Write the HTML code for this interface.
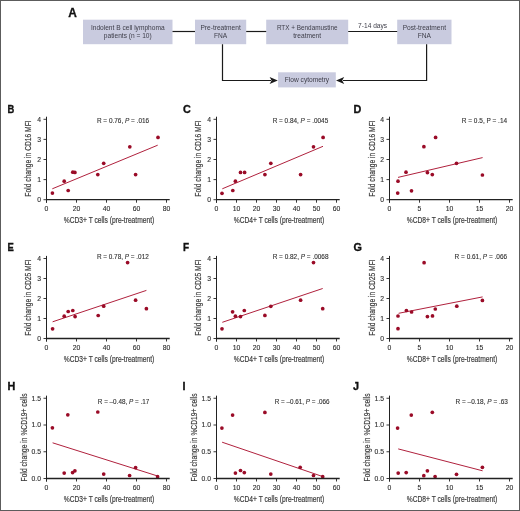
<!DOCTYPE html>
<html><head><meta charset="utf-8"><style>
html,body{margin:0;padding:0;background:#fff;}
body{width:520px;height:511px;overflow:hidden;}
svg{display:block;font-family:"Liberation Sans", sans-serif;will-change:transform;}
.frame{position:absolute;left:0;top:0;width:518px;height:509px;border:1px solid #5c5c5c;}
</style></head><body>
<svg width="520" height="511" viewBox="0 0 520 511">
<rect x="0" y="0" width="520" height="511" fill="#fff"/>
<text x="68.2" y="16.5" font-size="12" text-anchor="start" fill="#111" font-weight="bold" textLength="8.6" lengthAdjust="spacingAndGlyphs" stroke="#111" stroke-width="0.3">A</text>
<rect x="83" y="19.7" width="89.5" height="24.5" fill="#c9cbdf"/>
<text x="127.75" y="30.0" font-size="6.6" text-anchor="middle" fill="#3d3d48" font-weight="normal">Indolent B cell lymphoma</text>
<text x="127.75" y="38.1" font-size="6.6" text-anchor="middle" fill="#3d3d48" font-weight="normal">patients (n = 10)</text>
<rect x="195" y="19.7" width="51.2" height="24.5" fill="#c9cbdf"/>
<text x="220.6" y="30.0" font-size="6.6" text-anchor="middle" fill="#3d3d48" font-weight="normal">Pre-treatment</text>
<text x="220.6" y="38.1" font-size="6.6" text-anchor="middle" fill="#3d3d48" font-weight="normal">FNA</text>
<rect x="266.2" y="19.7" width="82.0" height="24.5" fill="#c9cbdf"/>
<text x="307.2" y="30.0" font-size="6.6" text-anchor="middle" fill="#3d3d48" font-weight="normal" textLength="60.6" lengthAdjust="spacingAndGlyphs">RTX + Bendamustine</text>
<text x="307.2" y="38.1" font-size="6.6" text-anchor="middle" fill="#3d3d48" font-weight="normal">treatment</text>
<rect x="397.2" y="19.7" width="54.3" height="24.5" fill="#c9cbdf"/>
<text x="424.35" y="30.0" font-size="6.6" text-anchor="middle" fill="#3d3d48" font-weight="normal">Post-treatment</text>
<text x="424.35" y="38.1" font-size="6.6" text-anchor="middle" fill="#3d3d48" font-weight="normal">FNA</text>
<g stroke="#1a1a1a" stroke-width="1.2" fill="none">
<line x1="172.5" y1="31.5" x2="195" y2="31.5"/>
<line x1="246.2" y1="31.5" x2="266.2" y2="31.5"/>
<line x1="348.2" y1="31.5" x2="397.2" y2="31.5"/>
<polyline points="222.5,44.2 222.5,80.5 271,80.5"/>
<polyline points="426.6,44.2 426.6,80.5 343,80.5"/>
</g>
<path d="M277.8,80.5 L269.6,76.9 L271.6,80.5 L269.6,84.1 Z" fill="#1a1a1a"/>
<path d="M336.0,80.5 L344.2,76.9 L342.2,80.5 L344.2,84.1 Z" fill="#1a1a1a"/>
<text x="372.6" y="28.0" font-size="6.6" text-anchor="middle" fill="#3d3d48" font-weight="normal">7-14 days</text>
<rect x="278.1" y="72.3" width="57.7" height="15.1" fill="#c9cbdf"/>
<text x="307" y="82.4" font-size="6.6" text-anchor="middle" fill="#3d3d48" font-weight="normal">Flow cytometry</text>
<text x="7.6" y="112.9" font-size="10.8" text-anchor="start" fill="#111" font-weight="bold" textLength="6.8" lengthAdjust="spacingAndGlyphs" stroke="#111" stroke-width="0.35">B</text>
<line x1="52.3" y1="188.8" x2="157.7" y2="145.2" stroke="#b0213d" stroke-width="1"/>
<circle cx="52.4" cy="193.1" r="1.85" fill="#9a0b27"/>
<circle cx="64.2" cy="181.2" r="1.85" fill="#9a0b27"/>
<circle cx="68.2" cy="190.5" r="1.85" fill="#9a0b27"/>
<circle cx="72.8" cy="172.2" r="1.85" fill="#9a0b27"/>
<circle cx="74.9" cy="172.4" r="1.85" fill="#9a0b27"/>
<circle cx="97.8" cy="174.6" r="1.85" fill="#9a0b27"/>
<circle cx="103.7" cy="163.3" r="1.85" fill="#9a0b27"/>
<circle cx="129.8" cy="146.8" r="1.85" fill="#9a0b27"/>
<circle cx="135.6" cy="174.6" r="1.85" fill="#9a0b27"/>
<circle cx="158" cy="137.4" r="1.85" fill="#9a0b27"/>
<g stroke="#222" fill="none">
<line x1="46.5" y1="116.7" x2="46.5" y2="202.7" stroke-width="1"/>
<line x1="46.0" y1="199.7" x2="169.7" y2="199.7" stroke-width="1.3"/>
<line x1="43.5" y1="199.7" x2="46.5" y2="199.7" stroke-width="0.9"/>
<line x1="43.5" y1="179.6" x2="46.5" y2="179.6" stroke-width="0.9"/>
<line x1="43.5" y1="159.5" x2="46.5" y2="159.5" stroke-width="0.9"/>
<line x1="43.5" y1="139.4" x2="46.5" y2="139.4" stroke-width="0.9"/>
<line x1="43.5" y1="119.3" x2="46.5" y2="119.3" stroke-width="0.9"/>
<line x1="46.5" y1="199.7" x2="46.5" y2="202.7" stroke-width="0.9"/>
<line x1="76.5" y1="199.7" x2="76.5" y2="202.7" stroke-width="0.9"/>
<line x1="106.5" y1="199.7" x2="106.5" y2="202.7" stroke-width="0.9"/>
<line x1="136.5" y1="199.7" x2="136.5" y2="202.7" stroke-width="0.9"/>
<line x1="166.5" y1="199.7" x2="166.5" y2="202.7" stroke-width="0.9"/>
</g>
<text x="41.0" y="202.1" font-size="6.8" text-anchor="end" fill="#2e2e2e" font-weight="normal" stroke="#2e2e2e" stroke-width="0.12">0</text>
<text x="41.0" y="182.0" font-size="6.8" text-anchor="end" fill="#2e2e2e" font-weight="normal" stroke="#2e2e2e" stroke-width="0.12">1</text>
<text x="41.0" y="161.9" font-size="6.8" text-anchor="end" fill="#2e2e2e" font-weight="normal" stroke="#2e2e2e" stroke-width="0.12">2</text>
<text x="41.0" y="141.8" font-size="6.8" text-anchor="end" fill="#2e2e2e" font-weight="normal" stroke="#2e2e2e" stroke-width="0.12">3</text>
<text x="41.0" y="121.7" font-size="6.8" text-anchor="end" fill="#2e2e2e" font-weight="normal" stroke="#2e2e2e" stroke-width="0.12">4</text>
<text x="46.5" y="211.3" font-size="6.8" text-anchor="middle" fill="#2e2e2e" font-weight="normal" stroke="#2e2e2e" stroke-width="0.12">0</text>
<text x="76.5" y="211.3" font-size="6.8" text-anchor="middle" fill="#2e2e2e" font-weight="normal" stroke="#2e2e2e" stroke-width="0.12">20</text>
<text x="106.5" y="211.3" font-size="6.8" text-anchor="middle" fill="#2e2e2e" font-weight="normal" stroke="#2e2e2e" stroke-width="0.12">40</text>
<text x="136.5" y="211.3" font-size="6.8" text-anchor="middle" fill="#2e2e2e" font-weight="normal" stroke="#2e2e2e" stroke-width="0.12">60</text>
<text x="166.5" y="211.3" font-size="6.8" text-anchor="middle" fill="#2e2e2e" font-weight="normal" stroke="#2e2e2e" stroke-width="0.12">80</text>
<text x="109.0" y="223.2" font-size="8.6" text-anchor="middle" fill="#3b3b3b" font-weight="normal" textLength="90.5" lengthAdjust="spacingAndGlyphs" stroke="#3b3b3b" stroke-width="0.18">%CD3+ T cells (pre-treatment)</text>
<text transform="translate(31.0,158.5) rotate(-90)" x="0" y="0" font-size="8.2" text-anchor="middle" fill="#3b3b3b" textLength="76.3" lengthAdjust="spacingAndGlyphs" stroke="#3b3b3b" stroke-width="0.18">Fold change in CD16 MFI</text>
<text x="96.9" y="122.5" font-size="6.4" text-anchor="start" fill="#333" font-weight="normal" textLength="52.3" lengthAdjust="spacingAndGlyphs" stroke="#333" stroke-width="0.12">R = 0.76, <tspan font-style="italic">P</tspan> = .016</text>
<text x="183" y="112.9" font-size="10.8" text-anchor="start" fill="#111" font-weight="bold" stroke="#111" stroke-width="0.35">C</text>
<line x1="222.3" y1="188.8" x2="323" y2="146.3" stroke="#b0213d" stroke-width="1"/>
<circle cx="222" cy="193.3" r="1.85" fill="#9a0b27"/>
<circle cx="232.8" cy="190.5" r="1.85" fill="#9a0b27"/>
<circle cx="235.4" cy="181.2" r="1.85" fill="#9a0b27"/>
<circle cx="240.5" cy="172.4" r="1.85" fill="#9a0b27"/>
<circle cx="244.6" cy="172.4" r="1.85" fill="#9a0b27"/>
<circle cx="264.9" cy="174.6" r="1.85" fill="#9a0b27"/>
<circle cx="270.8" cy="163.3" r="1.85" fill="#9a0b27"/>
<circle cx="300.6" cy="174.6" r="1.85" fill="#9a0b27"/>
<circle cx="313.5" cy="146.8" r="1.85" fill="#9a0b27"/>
<circle cx="323.1" cy="137.4" r="1.85" fill="#9a0b27"/>
<g stroke="#222" fill="none">
<line x1="216.5" y1="116.7" x2="216.5" y2="202.7" stroke-width="1"/>
<line x1="216.0" y1="199.7" x2="339.7" y2="199.7" stroke-width="1.3"/>
<line x1="213.5" y1="199.7" x2="216.5" y2="199.7" stroke-width="0.9"/>
<line x1="213.5" y1="179.6" x2="216.5" y2="179.6" stroke-width="0.9"/>
<line x1="213.5" y1="159.5" x2="216.5" y2="159.5" stroke-width="0.9"/>
<line x1="213.5" y1="139.4" x2="216.5" y2="139.4" stroke-width="0.9"/>
<line x1="213.5" y1="119.3" x2="216.5" y2="119.3" stroke-width="0.9"/>
<line x1="216.5" y1="199.7" x2="216.5" y2="202.7" stroke-width="0.9"/>
<line x1="236.5" y1="199.7" x2="236.5" y2="202.7" stroke-width="0.9"/>
<line x1="256.5" y1="199.7" x2="256.5" y2="202.7" stroke-width="0.9"/>
<line x1="276.5" y1="199.7" x2="276.5" y2="202.7" stroke-width="0.9"/>
<line x1="296.5" y1="199.7" x2="296.5" y2="202.7" stroke-width="0.9"/>
<line x1="316.5" y1="199.7" x2="316.5" y2="202.7" stroke-width="0.9"/>
<line x1="336.5" y1="199.7" x2="336.5" y2="202.7" stroke-width="0.9"/>
</g>
<text x="211.0" y="202.1" font-size="6.8" text-anchor="end" fill="#2e2e2e" font-weight="normal" stroke="#2e2e2e" stroke-width="0.12">0</text>
<text x="211.0" y="182.0" font-size="6.8" text-anchor="end" fill="#2e2e2e" font-weight="normal" stroke="#2e2e2e" stroke-width="0.12">1</text>
<text x="211.0" y="161.9" font-size="6.8" text-anchor="end" fill="#2e2e2e" font-weight="normal" stroke="#2e2e2e" stroke-width="0.12">2</text>
<text x="211.0" y="141.8" font-size="6.8" text-anchor="end" fill="#2e2e2e" font-weight="normal" stroke="#2e2e2e" stroke-width="0.12">3</text>
<text x="211.0" y="121.7" font-size="6.8" text-anchor="end" fill="#2e2e2e" font-weight="normal" stroke="#2e2e2e" stroke-width="0.12">4</text>
<text x="216.5" y="211.3" font-size="6.8" text-anchor="middle" fill="#2e2e2e" font-weight="normal" stroke="#2e2e2e" stroke-width="0.12">0</text>
<text x="236.5" y="211.3" font-size="6.8" text-anchor="middle" fill="#2e2e2e" font-weight="normal" stroke="#2e2e2e" stroke-width="0.12">10</text>
<text x="256.5" y="211.3" font-size="6.8" text-anchor="middle" fill="#2e2e2e" font-weight="normal" stroke="#2e2e2e" stroke-width="0.12">20</text>
<text x="276.5" y="211.3" font-size="6.8" text-anchor="middle" fill="#2e2e2e" font-weight="normal" stroke="#2e2e2e" stroke-width="0.12">30</text>
<text x="296.5" y="211.3" font-size="6.8" text-anchor="middle" fill="#2e2e2e" font-weight="normal" stroke="#2e2e2e" stroke-width="0.12">40</text>
<text x="316.5" y="211.3" font-size="6.8" text-anchor="middle" fill="#2e2e2e" font-weight="normal" stroke="#2e2e2e" stroke-width="0.12">50</text>
<text x="336.5" y="211.3" font-size="6.8" text-anchor="middle" fill="#2e2e2e" font-weight="normal" stroke="#2e2e2e" stroke-width="0.12">60</text>
<text x="279.0" y="223.2" font-size="8.6" text-anchor="middle" fill="#3b3b3b" font-weight="normal" textLength="90.5" lengthAdjust="spacingAndGlyphs" stroke="#3b3b3b" stroke-width="0.18">%CD4+ T cells (pre-treatment)</text>
<text transform="translate(201.0,158.5) rotate(-90)" x="0" y="0" font-size="8.2" text-anchor="middle" fill="#3b3b3b" textLength="76.3" lengthAdjust="spacingAndGlyphs" stroke="#3b3b3b" stroke-width="0.18">Fold change in CD16 MFI</text>
<text x="272.7" y="122.5" font-size="6.4" text-anchor="start" fill="#333" font-weight="normal" textLength="55.5" lengthAdjust="spacingAndGlyphs" stroke="#333" stroke-width="0.12">R = 0.84, <tspan font-style="italic">P</tspan> = .0045</text>
<text x="353.5" y="112.9" font-size="10.8" text-anchor="start" fill="#111" font-weight="bold" stroke="#111" stroke-width="0.35">D</text>
<line x1="398" y1="177.4" x2="482.6" y2="157.6" stroke="#b0213d" stroke-width="1"/>
<circle cx="397.7" cy="193.1" r="1.85" fill="#9a0b27"/>
<circle cx="398" cy="181.2" r="1.85" fill="#9a0b27"/>
<circle cx="406" cy="172.2" r="1.85" fill="#9a0b27"/>
<circle cx="411.5" cy="190.8" r="1.85" fill="#9a0b27"/>
<circle cx="427.4" cy="172.6" r="1.85" fill="#9a0b27"/>
<circle cx="432.3" cy="174.6" r="1.85" fill="#9a0b27"/>
<circle cx="423.9" cy="146.7" r="1.85" fill="#9a0b27"/>
<circle cx="435.6" cy="137.4" r="1.85" fill="#9a0b27"/>
<circle cx="456.5" cy="163.3" r="1.85" fill="#9a0b27"/>
<circle cx="482.4" cy="175" r="1.85" fill="#9a0b27"/>
<g stroke="#222" fill="none">
<line x1="389.5" y1="116.7" x2="389.5" y2="202.7" stroke-width="1"/>
<line x1="389.0" y1="199.7" x2="512.7" y2="199.7" stroke-width="1.3"/>
<line x1="386.5" y1="199.7" x2="389.5" y2="199.7" stroke-width="0.9"/>
<line x1="386.5" y1="179.6" x2="389.5" y2="179.6" stroke-width="0.9"/>
<line x1="386.5" y1="159.5" x2="389.5" y2="159.5" stroke-width="0.9"/>
<line x1="386.5" y1="139.4" x2="389.5" y2="139.4" stroke-width="0.9"/>
<line x1="386.5" y1="119.3" x2="389.5" y2="119.3" stroke-width="0.9"/>
<line x1="389.5" y1="199.7" x2="389.5" y2="202.7" stroke-width="0.9"/>
<line x1="419.5" y1="199.7" x2="419.5" y2="202.7" stroke-width="0.9"/>
<line x1="449.5" y1="199.7" x2="449.5" y2="202.7" stroke-width="0.9"/>
<line x1="479.5" y1="199.7" x2="479.5" y2="202.7" stroke-width="0.9"/>
<line x1="509.5" y1="199.7" x2="509.5" y2="202.7" stroke-width="0.9"/>
</g>
<text x="384.0" y="202.1" font-size="6.8" text-anchor="end" fill="#2e2e2e" font-weight="normal" stroke="#2e2e2e" stroke-width="0.12">0</text>
<text x="384.0" y="182.0" font-size="6.8" text-anchor="end" fill="#2e2e2e" font-weight="normal" stroke="#2e2e2e" stroke-width="0.12">1</text>
<text x="384.0" y="161.9" font-size="6.8" text-anchor="end" fill="#2e2e2e" font-weight="normal" stroke="#2e2e2e" stroke-width="0.12">2</text>
<text x="384.0" y="141.8" font-size="6.8" text-anchor="end" fill="#2e2e2e" font-weight="normal" stroke="#2e2e2e" stroke-width="0.12">3</text>
<text x="384.0" y="121.7" font-size="6.8" text-anchor="end" fill="#2e2e2e" font-weight="normal" stroke="#2e2e2e" stroke-width="0.12">4</text>
<text x="389.5" y="211.3" font-size="6.8" text-anchor="middle" fill="#2e2e2e" font-weight="normal" stroke="#2e2e2e" stroke-width="0.12">0</text>
<text x="419.5" y="211.3" font-size="6.8" text-anchor="middle" fill="#2e2e2e" font-weight="normal" stroke="#2e2e2e" stroke-width="0.12">5</text>
<text x="449.5" y="211.3" font-size="6.8" text-anchor="middle" fill="#2e2e2e" font-weight="normal" stroke="#2e2e2e" stroke-width="0.12">10</text>
<text x="479.5" y="211.3" font-size="6.8" text-anchor="middle" fill="#2e2e2e" font-weight="normal" stroke="#2e2e2e" stroke-width="0.12">15</text>
<text x="509.5" y="211.3" font-size="6.8" text-anchor="middle" fill="#2e2e2e" font-weight="normal" stroke="#2e2e2e" stroke-width="0.12">20</text>
<text x="452.0" y="223.2" font-size="8.6" text-anchor="middle" fill="#3b3b3b" font-weight="normal" textLength="90.5" lengthAdjust="spacingAndGlyphs" stroke="#3b3b3b" stroke-width="0.18">%CD8+ T cells (pre-treatment)</text>
<text transform="translate(374.6,158.5) rotate(-90)" x="0" y="0" font-size="8.2" text-anchor="middle" fill="#3b3b3b" textLength="76.3" lengthAdjust="spacingAndGlyphs" stroke="#3b3b3b" stroke-width="0.18">Fold change in CD16 MFI</text>
<text x="461.8" y="122.5" font-size="6.4" text-anchor="start" fill="#333" font-weight="normal" textLength="45.3" lengthAdjust="spacingAndGlyphs" stroke="#333" stroke-width="0.12">R = 0.5, P = .14</text>
<text x="7.6" y="250.8" font-size="10.8" text-anchor="start" fill="#111" font-weight="bold" textLength="6.3" lengthAdjust="spacingAndGlyphs" stroke="#111" stroke-width="0.35">E</text>
<line x1="52.6" y1="321.8" x2="146.4" y2="290.4" stroke="#b0213d" stroke-width="1"/>
<circle cx="52.6" cy="328.8" r="1.85" fill="#9a0b27"/>
<circle cx="64.2" cy="316.2" r="1.85" fill="#9a0b27"/>
<circle cx="68.2" cy="311.5" r="1.85" fill="#9a0b27"/>
<circle cx="72.8" cy="310.5" r="1.85" fill="#9a0b27"/>
<circle cx="75.1" cy="316.6" r="1.85" fill="#9a0b27"/>
<circle cx="98.2" cy="315.5" r="1.85" fill="#9a0b27"/>
<circle cx="103.7" cy="306.2" r="1.85" fill="#9a0b27"/>
<circle cx="127.6" cy="262.6" r="1.85" fill="#9a0b27"/>
<circle cx="135.6" cy="300.2" r="1.85" fill="#9a0b27"/>
<circle cx="146.4" cy="308.7" r="1.85" fill="#9a0b27"/>
<g stroke="#222" fill="none">
<line x1="46.5" y1="255.9" x2="46.5" y2="341.5" stroke-width="1"/>
<line x1="46.0" y1="338.5" x2="169.7" y2="338.5" stroke-width="1.3"/>
<line x1="43.5" y1="338.5" x2="46.5" y2="338.5" stroke-width="0.9"/>
<line x1="43.5" y1="318.5" x2="46.5" y2="318.5" stroke-width="0.9"/>
<line x1="43.5" y1="298.5" x2="46.5" y2="298.5" stroke-width="0.9"/>
<line x1="43.5" y1="278.5" x2="46.5" y2="278.5" stroke-width="0.9"/>
<line x1="43.5" y1="258.5" x2="46.5" y2="258.5" stroke-width="0.9"/>
<line x1="46.5" y1="338.5" x2="46.5" y2="341.5" stroke-width="0.9"/>
<line x1="76.5" y1="338.5" x2="76.5" y2="341.5" stroke-width="0.9"/>
<line x1="106.5" y1="338.5" x2="106.5" y2="341.5" stroke-width="0.9"/>
<line x1="136.5" y1="338.5" x2="136.5" y2="341.5" stroke-width="0.9"/>
<line x1="166.5" y1="338.5" x2="166.5" y2="341.5" stroke-width="0.9"/>
</g>
<text x="41.0" y="340.9" font-size="6.8" text-anchor="end" fill="#2e2e2e" font-weight="normal" stroke="#2e2e2e" stroke-width="0.12">0</text>
<text x="41.0" y="320.9" font-size="6.8" text-anchor="end" fill="#2e2e2e" font-weight="normal" stroke="#2e2e2e" stroke-width="0.12">1</text>
<text x="41.0" y="300.9" font-size="6.8" text-anchor="end" fill="#2e2e2e" font-weight="normal" stroke="#2e2e2e" stroke-width="0.12">2</text>
<text x="41.0" y="280.9" font-size="6.8" text-anchor="end" fill="#2e2e2e" font-weight="normal" stroke="#2e2e2e" stroke-width="0.12">3</text>
<text x="41.0" y="260.9" font-size="6.8" text-anchor="end" fill="#2e2e2e" font-weight="normal" stroke="#2e2e2e" stroke-width="0.12">4</text>
<text x="46.5" y="350.1" font-size="6.8" text-anchor="middle" fill="#2e2e2e" font-weight="normal" stroke="#2e2e2e" stroke-width="0.12">0</text>
<text x="76.5" y="350.1" font-size="6.8" text-anchor="middle" fill="#2e2e2e" font-weight="normal" stroke="#2e2e2e" stroke-width="0.12">20</text>
<text x="106.5" y="350.1" font-size="6.8" text-anchor="middle" fill="#2e2e2e" font-weight="normal" stroke="#2e2e2e" stroke-width="0.12">40</text>
<text x="136.5" y="350.1" font-size="6.8" text-anchor="middle" fill="#2e2e2e" font-weight="normal" stroke="#2e2e2e" stroke-width="0.12">60</text>
<text x="166.5" y="350.1" font-size="6.8" text-anchor="middle" fill="#2e2e2e" font-weight="normal" stroke="#2e2e2e" stroke-width="0.12">80</text>
<text x="109.0" y="362.0" font-size="8.6" text-anchor="middle" fill="#3b3b3b" font-weight="normal" textLength="90.5" lengthAdjust="spacingAndGlyphs" stroke="#3b3b3b" stroke-width="0.18">%CD3+ T cells (pre-treatment)</text>
<text transform="translate(31.0,297.5) rotate(-90)" x="0" y="0" font-size="8.2" text-anchor="middle" fill="#3b3b3b" textLength="76.3" lengthAdjust="spacingAndGlyphs" stroke="#3b3b3b" stroke-width="0.18">Fold change in CD25 MFI</text>
<text x="96.9" y="259.0" font-size="6.4" text-anchor="start" fill="#333" font-weight="normal" textLength="51.9" lengthAdjust="spacingAndGlyphs" stroke="#333" stroke-width="0.12">R = 0.78, <tspan font-style="italic">P</tspan> = .012</text>
<text x="183" y="250.8" font-size="10.8" text-anchor="start" fill="#111" font-weight="bold" textLength="6.1" lengthAdjust="spacingAndGlyphs" stroke="#111" stroke-width="0.35">F</text>
<line x1="222.3" y1="322.3" x2="322.7" y2="288.5" stroke="#b0213d" stroke-width="1"/>
<circle cx="222" cy="328.8" r="1.85" fill="#9a0b27"/>
<circle cx="232.6" cy="311.8" r="1.85" fill="#9a0b27"/>
<circle cx="235.4" cy="316.2" r="1.85" fill="#9a0b27"/>
<circle cx="240.5" cy="316.6" r="1.85" fill="#9a0b27"/>
<circle cx="244.3" cy="310.5" r="1.85" fill="#9a0b27"/>
<circle cx="264.9" cy="315.4" r="1.85" fill="#9a0b27"/>
<circle cx="270.8" cy="306.3" r="1.85" fill="#9a0b27"/>
<circle cx="300.6" cy="300.2" r="1.85" fill="#9a0b27"/>
<circle cx="313.5" cy="262.6" r="1.85" fill="#9a0b27"/>
<circle cx="322.7" cy="308.7" r="1.85" fill="#9a0b27"/>
<g stroke="#222" fill="none">
<line x1="216.5" y1="255.9" x2="216.5" y2="341.5" stroke-width="1"/>
<line x1="216.0" y1="338.5" x2="339.7" y2="338.5" stroke-width="1.3"/>
<line x1="213.5" y1="338.5" x2="216.5" y2="338.5" stroke-width="0.9"/>
<line x1="213.5" y1="318.5" x2="216.5" y2="318.5" stroke-width="0.9"/>
<line x1="213.5" y1="298.5" x2="216.5" y2="298.5" stroke-width="0.9"/>
<line x1="213.5" y1="278.5" x2="216.5" y2="278.5" stroke-width="0.9"/>
<line x1="213.5" y1="258.5" x2="216.5" y2="258.5" stroke-width="0.9"/>
<line x1="216.5" y1="338.5" x2="216.5" y2="341.5" stroke-width="0.9"/>
<line x1="236.5" y1="338.5" x2="236.5" y2="341.5" stroke-width="0.9"/>
<line x1="256.5" y1="338.5" x2="256.5" y2="341.5" stroke-width="0.9"/>
<line x1="276.5" y1="338.5" x2="276.5" y2="341.5" stroke-width="0.9"/>
<line x1="296.5" y1="338.5" x2="296.5" y2="341.5" stroke-width="0.9"/>
<line x1="316.5" y1="338.5" x2="316.5" y2="341.5" stroke-width="0.9"/>
<line x1="336.5" y1="338.5" x2="336.5" y2="341.5" stroke-width="0.9"/>
</g>
<text x="211.0" y="340.9" font-size="6.8" text-anchor="end" fill="#2e2e2e" font-weight="normal" stroke="#2e2e2e" stroke-width="0.12">0</text>
<text x="211.0" y="320.9" font-size="6.8" text-anchor="end" fill="#2e2e2e" font-weight="normal" stroke="#2e2e2e" stroke-width="0.12">1</text>
<text x="211.0" y="300.9" font-size="6.8" text-anchor="end" fill="#2e2e2e" font-weight="normal" stroke="#2e2e2e" stroke-width="0.12">2</text>
<text x="211.0" y="280.9" font-size="6.8" text-anchor="end" fill="#2e2e2e" font-weight="normal" stroke="#2e2e2e" stroke-width="0.12">3</text>
<text x="211.0" y="260.9" font-size="6.8" text-anchor="end" fill="#2e2e2e" font-weight="normal" stroke="#2e2e2e" stroke-width="0.12">4</text>
<text x="216.5" y="350.1" font-size="6.8" text-anchor="middle" fill="#2e2e2e" font-weight="normal" stroke="#2e2e2e" stroke-width="0.12">0</text>
<text x="236.5" y="350.1" font-size="6.8" text-anchor="middle" fill="#2e2e2e" font-weight="normal" stroke="#2e2e2e" stroke-width="0.12">10</text>
<text x="256.5" y="350.1" font-size="6.8" text-anchor="middle" fill="#2e2e2e" font-weight="normal" stroke="#2e2e2e" stroke-width="0.12">20</text>
<text x="276.5" y="350.1" font-size="6.8" text-anchor="middle" fill="#2e2e2e" font-weight="normal" stroke="#2e2e2e" stroke-width="0.12">30</text>
<text x="296.5" y="350.1" font-size="6.8" text-anchor="middle" fill="#2e2e2e" font-weight="normal" stroke="#2e2e2e" stroke-width="0.12">40</text>
<text x="316.5" y="350.1" font-size="6.8" text-anchor="middle" fill="#2e2e2e" font-weight="normal" stroke="#2e2e2e" stroke-width="0.12">50</text>
<text x="336.5" y="350.1" font-size="6.8" text-anchor="middle" fill="#2e2e2e" font-weight="normal" stroke="#2e2e2e" stroke-width="0.12">60</text>
<text x="279.0" y="362.0" font-size="8.6" text-anchor="middle" fill="#3b3b3b" font-weight="normal" textLength="90.5" lengthAdjust="spacingAndGlyphs" stroke="#3b3b3b" stroke-width="0.18">%CD4+ T cells (pre-treatment)</text>
<text transform="translate(201.0,297.5) rotate(-90)" x="0" y="0" font-size="8.2" text-anchor="middle" fill="#3b3b3b" textLength="76.3" lengthAdjust="spacingAndGlyphs" stroke="#3b3b3b" stroke-width="0.18">Fold change in CD25 MFI</text>
<text x="272.7" y="259.0" font-size="6.4" text-anchor="start" fill="#333" font-weight="normal" textLength="55.8" lengthAdjust="spacingAndGlyphs" stroke="#333" stroke-width="0.12">R = 0.82, <tspan font-style="italic">P</tspan> = .0068</text>
<text x="353.5" y="250.8" font-size="10.8" text-anchor="start" fill="#111" font-weight="bold" stroke="#111" stroke-width="0.35">G</text>
<line x1="398.6" y1="313.3" x2="482.6" y2="296.9" stroke="#b0213d" stroke-width="1"/>
<circle cx="398" cy="316" r="1.85" fill="#9a0b27"/>
<circle cx="398" cy="328.7" r="1.85" fill="#9a0b27"/>
<circle cx="406.4" cy="310.5" r="1.85" fill="#9a0b27"/>
<circle cx="411.6" cy="312" r="1.85" fill="#9a0b27"/>
<circle cx="424.1" cy="262.7" r="1.85" fill="#9a0b27"/>
<circle cx="427.4" cy="316.6" r="1.85" fill="#9a0b27"/>
<circle cx="432.5" cy="315.9" r="1.85" fill="#9a0b27"/>
<circle cx="435.3" cy="309" r="1.85" fill="#9a0b27"/>
<circle cx="456.8" cy="306.2" r="1.85" fill="#9a0b27"/>
<circle cx="482.4" cy="300.4" r="1.85" fill="#9a0b27"/>
<g stroke="#222" fill="none">
<line x1="389.5" y1="255.9" x2="389.5" y2="341.5" stroke-width="1"/>
<line x1="389.0" y1="338.5" x2="512.7" y2="338.5" stroke-width="1.3"/>
<line x1="386.5" y1="338.5" x2="389.5" y2="338.5" stroke-width="0.9"/>
<line x1="386.5" y1="318.5" x2="389.5" y2="318.5" stroke-width="0.9"/>
<line x1="386.5" y1="298.5" x2="389.5" y2="298.5" stroke-width="0.9"/>
<line x1="386.5" y1="278.5" x2="389.5" y2="278.5" stroke-width="0.9"/>
<line x1="386.5" y1="258.5" x2="389.5" y2="258.5" stroke-width="0.9"/>
<line x1="389.5" y1="338.5" x2="389.5" y2="341.5" stroke-width="0.9"/>
<line x1="419.5" y1="338.5" x2="419.5" y2="341.5" stroke-width="0.9"/>
<line x1="449.5" y1="338.5" x2="449.5" y2="341.5" stroke-width="0.9"/>
<line x1="479.5" y1="338.5" x2="479.5" y2="341.5" stroke-width="0.9"/>
<line x1="509.5" y1="338.5" x2="509.5" y2="341.5" stroke-width="0.9"/>
</g>
<text x="384.0" y="340.9" font-size="6.8" text-anchor="end" fill="#2e2e2e" font-weight="normal" stroke="#2e2e2e" stroke-width="0.12">0</text>
<text x="384.0" y="320.9" font-size="6.8" text-anchor="end" fill="#2e2e2e" font-weight="normal" stroke="#2e2e2e" stroke-width="0.12">1</text>
<text x="384.0" y="300.9" font-size="6.8" text-anchor="end" fill="#2e2e2e" font-weight="normal" stroke="#2e2e2e" stroke-width="0.12">2</text>
<text x="384.0" y="280.9" font-size="6.8" text-anchor="end" fill="#2e2e2e" font-weight="normal" stroke="#2e2e2e" stroke-width="0.12">3</text>
<text x="384.0" y="260.9" font-size="6.8" text-anchor="end" fill="#2e2e2e" font-weight="normal" stroke="#2e2e2e" stroke-width="0.12">4</text>
<text x="389.5" y="350.1" font-size="6.8" text-anchor="middle" fill="#2e2e2e" font-weight="normal" stroke="#2e2e2e" stroke-width="0.12">0</text>
<text x="419.5" y="350.1" font-size="6.8" text-anchor="middle" fill="#2e2e2e" font-weight="normal" stroke="#2e2e2e" stroke-width="0.12">5</text>
<text x="449.5" y="350.1" font-size="6.8" text-anchor="middle" fill="#2e2e2e" font-weight="normal" stroke="#2e2e2e" stroke-width="0.12">10</text>
<text x="479.5" y="350.1" font-size="6.8" text-anchor="middle" fill="#2e2e2e" font-weight="normal" stroke="#2e2e2e" stroke-width="0.12">15</text>
<text x="509.5" y="350.1" font-size="6.8" text-anchor="middle" fill="#2e2e2e" font-weight="normal" stroke="#2e2e2e" stroke-width="0.12">20</text>
<text x="452.0" y="362.0" font-size="8.6" text-anchor="middle" fill="#3b3b3b" font-weight="normal" textLength="90.5" lengthAdjust="spacingAndGlyphs" stroke="#3b3b3b" stroke-width="0.18">%CD8+ T cells (pre-treatment)</text>
<text transform="translate(374.6,297.5) rotate(-90)" x="0" y="0" font-size="8.2" text-anchor="middle" fill="#3b3b3b" textLength="76.3" lengthAdjust="spacingAndGlyphs" stroke="#3b3b3b" stroke-width="0.18">Fold change in CD25 MFI</text>
<text x="454.6" y="259.0" font-size="6.4" text-anchor="start" fill="#333" font-weight="normal" textLength="52.5" lengthAdjust="spacingAndGlyphs" stroke="#333" stroke-width="0.12">R = 0.61, <tspan font-style="italic">P</tspan> = .066</text>
<text x="7.5" y="389.5" font-size="10.8" text-anchor="start" fill="#111" font-weight="bold" stroke="#111" stroke-width="0.35">H</text>
<line x1="52.6" y1="442.8" x2="157.6" y2="476" stroke="#b0213d" stroke-width="1"/>
<circle cx="52.4" cy="427.8" r="1.85" fill="#9a0b27"/>
<circle cx="67.8" cy="414.8" r="1.85" fill="#9a0b27"/>
<circle cx="64.2" cy="473.1" r="1.85" fill="#9a0b27"/>
<circle cx="72.6" cy="472.6" r="1.85" fill="#9a0b27"/>
<circle cx="74.9" cy="470.8" r="1.85" fill="#9a0b27"/>
<circle cx="97.8" cy="412" r="1.85" fill="#9a0b27"/>
<circle cx="103.7" cy="474.1" r="1.85" fill="#9a0b27"/>
<circle cx="129.6" cy="475.5" r="1.85" fill="#9a0b27"/>
<circle cx="135.6" cy="467.6" r="1.85" fill="#9a0b27"/>
<circle cx="157.6" cy="476.7" r="1.85" fill="#9a0b27"/>
<g stroke="#222" fill="none">
<line x1="46.5" y1="395.65" x2="46.5" y2="481.5" stroke-width="1"/>
<line x1="46.0" y1="478.5" x2="169.7" y2="478.5" stroke-width="1.3"/>
<line x1="43.5" y1="478.5" x2="46.5" y2="478.5" stroke-width="0.9"/>
<line x1="43.5" y1="451.75" x2="46.5" y2="451.75" stroke-width="0.9"/>
<line x1="43.5" y1="425.0" x2="46.5" y2="425.0" stroke-width="0.9"/>
<line x1="43.5" y1="398.25" x2="46.5" y2="398.25" stroke-width="0.9"/>
<line x1="46.5" y1="478.5" x2="46.5" y2="481.5" stroke-width="0.9"/>
<line x1="76.5" y1="478.5" x2="76.5" y2="481.5" stroke-width="0.9"/>
<line x1="106.5" y1="478.5" x2="106.5" y2="481.5" stroke-width="0.9"/>
<line x1="136.5" y1="478.5" x2="136.5" y2="481.5" stroke-width="0.9"/>
<line x1="166.5" y1="478.5" x2="166.5" y2="481.5" stroke-width="0.9"/>
</g>
<text x="41.0" y="480.9" font-size="6.8" text-anchor="end" fill="#2e2e2e" font-weight="normal" stroke="#2e2e2e" stroke-width="0.12">0.0</text>
<text x="41.0" y="454.15" font-size="6.8" text-anchor="end" fill="#2e2e2e" font-weight="normal" stroke="#2e2e2e" stroke-width="0.12">0.5</text>
<text x="41.0" y="427.4" font-size="6.8" text-anchor="end" fill="#2e2e2e" font-weight="normal" stroke="#2e2e2e" stroke-width="0.12">1.0</text>
<text x="41.0" y="400.65" font-size="6.8" text-anchor="end" fill="#2e2e2e" font-weight="normal" stroke="#2e2e2e" stroke-width="0.12">1.5</text>
<text x="46.5" y="490.1" font-size="6.8" text-anchor="middle" fill="#2e2e2e" font-weight="normal" stroke="#2e2e2e" stroke-width="0.12">0</text>
<text x="76.5" y="490.1" font-size="6.8" text-anchor="middle" fill="#2e2e2e" font-weight="normal" stroke="#2e2e2e" stroke-width="0.12">20</text>
<text x="106.5" y="490.1" font-size="6.8" text-anchor="middle" fill="#2e2e2e" font-weight="normal" stroke="#2e2e2e" stroke-width="0.12">40</text>
<text x="136.5" y="490.1" font-size="6.8" text-anchor="middle" fill="#2e2e2e" font-weight="normal" stroke="#2e2e2e" stroke-width="0.12">60</text>
<text x="166.5" y="490.1" font-size="6.8" text-anchor="middle" fill="#2e2e2e" font-weight="normal" stroke="#2e2e2e" stroke-width="0.12">80</text>
<text x="109.0" y="502.0" font-size="8.6" text-anchor="middle" fill="#3b3b3b" font-weight="normal" textLength="90.5" lengthAdjust="spacingAndGlyphs" stroke="#3b3b3b" stroke-width="0.18">%CD3+ T cells (pre-treatment)</text>
<text transform="translate(26.5,437.38) rotate(-90)" x="0" y="0" font-size="8.2" text-anchor="middle" fill="#3b3b3b" textLength="88" lengthAdjust="spacingAndGlyphs" stroke="#3b3b3b" stroke-width="0.18">Fold change in %CD19+ cells</text>
<text x="97.8" y="403.8" font-size="6.4" text-anchor="start" fill="#333" font-weight="normal" textLength="51.4" lengthAdjust="spacingAndGlyphs" stroke="#333" stroke-width="0.12">R = –0.48, <tspan font-style="italic">P</tspan> = .17</text>
<text x="182.5" y="389.5" font-size="10.8" text-anchor="start" fill="#111" font-weight="bold" stroke="#111" stroke-width="0.35">I</text>
<line x1="222.1" y1="442.2" x2="323.1" y2="476.7" stroke="#b0213d" stroke-width="1"/>
<circle cx="221.9" cy="428.1" r="1.85" fill="#9a0b27"/>
<circle cx="232.6" cy="415.1" r="1.85" fill="#9a0b27"/>
<circle cx="235.4" cy="473.1" r="1.85" fill="#9a0b27"/>
<circle cx="240.5" cy="470.5" r="1.85" fill="#9a0b27"/>
<circle cx="244.3" cy="472.6" r="1.85" fill="#9a0b27"/>
<circle cx="264.9" cy="412.4" r="1.85" fill="#9a0b27"/>
<circle cx="270.8" cy="474.1" r="1.85" fill="#9a0b27"/>
<circle cx="300.2" cy="467.3" r="1.85" fill="#9a0b27"/>
<circle cx="313.5" cy="475.5" r="1.85" fill="#9a0b27"/>
<circle cx="322.7" cy="476.7" r="1.85" fill="#9a0b27"/>
<g stroke="#222" fill="none">
<line x1="216.5" y1="395.65" x2="216.5" y2="481.5" stroke-width="1"/>
<line x1="216.0" y1="478.5" x2="339.7" y2="478.5" stroke-width="1.3"/>
<line x1="213.5" y1="478.5" x2="216.5" y2="478.5" stroke-width="0.9"/>
<line x1="213.5" y1="451.75" x2="216.5" y2="451.75" stroke-width="0.9"/>
<line x1="213.5" y1="425.0" x2="216.5" y2="425.0" stroke-width="0.9"/>
<line x1="213.5" y1="398.25" x2="216.5" y2="398.25" stroke-width="0.9"/>
<line x1="216.5" y1="478.5" x2="216.5" y2="481.5" stroke-width="0.9"/>
<line x1="236.5" y1="478.5" x2="236.5" y2="481.5" stroke-width="0.9"/>
<line x1="256.5" y1="478.5" x2="256.5" y2="481.5" stroke-width="0.9"/>
<line x1="276.5" y1="478.5" x2="276.5" y2="481.5" stroke-width="0.9"/>
<line x1="296.5" y1="478.5" x2="296.5" y2="481.5" stroke-width="0.9"/>
<line x1="316.5" y1="478.5" x2="316.5" y2="481.5" stroke-width="0.9"/>
<line x1="336.5" y1="478.5" x2="336.5" y2="481.5" stroke-width="0.9"/>
</g>
<text x="211.0" y="480.9" font-size="6.8" text-anchor="end" fill="#2e2e2e" font-weight="normal" stroke="#2e2e2e" stroke-width="0.12">0.0</text>
<text x="211.0" y="454.15" font-size="6.8" text-anchor="end" fill="#2e2e2e" font-weight="normal" stroke="#2e2e2e" stroke-width="0.12">0.5</text>
<text x="211.0" y="427.4" font-size="6.8" text-anchor="end" fill="#2e2e2e" font-weight="normal" stroke="#2e2e2e" stroke-width="0.12">1.0</text>
<text x="211.0" y="400.65" font-size="6.8" text-anchor="end" fill="#2e2e2e" font-weight="normal" stroke="#2e2e2e" stroke-width="0.12">1.5</text>
<text x="216.5" y="490.1" font-size="6.8" text-anchor="middle" fill="#2e2e2e" font-weight="normal" stroke="#2e2e2e" stroke-width="0.12">0</text>
<text x="236.5" y="490.1" font-size="6.8" text-anchor="middle" fill="#2e2e2e" font-weight="normal" stroke="#2e2e2e" stroke-width="0.12">10</text>
<text x="256.5" y="490.1" font-size="6.8" text-anchor="middle" fill="#2e2e2e" font-weight="normal" stroke="#2e2e2e" stroke-width="0.12">20</text>
<text x="276.5" y="490.1" font-size="6.8" text-anchor="middle" fill="#2e2e2e" font-weight="normal" stroke="#2e2e2e" stroke-width="0.12">30</text>
<text x="296.5" y="490.1" font-size="6.8" text-anchor="middle" fill="#2e2e2e" font-weight="normal" stroke="#2e2e2e" stroke-width="0.12">40</text>
<text x="316.5" y="490.1" font-size="6.8" text-anchor="middle" fill="#2e2e2e" font-weight="normal" stroke="#2e2e2e" stroke-width="0.12">50</text>
<text x="336.5" y="490.1" font-size="6.8" text-anchor="middle" fill="#2e2e2e" font-weight="normal" stroke="#2e2e2e" stroke-width="0.12">60</text>
<text x="279.0" y="502.0" font-size="8.6" text-anchor="middle" fill="#3b3b3b" font-weight="normal" textLength="90.5" lengthAdjust="spacingAndGlyphs" stroke="#3b3b3b" stroke-width="0.18">%CD4+ T cells (pre-treatment)</text>
<text transform="translate(196.7,437.38) rotate(-90)" x="0" y="0" font-size="8.2" text-anchor="middle" fill="#3b3b3b" textLength="88" lengthAdjust="spacingAndGlyphs" stroke="#3b3b3b" stroke-width="0.18">Fold change in %CD19+ cells</text>
<text x="274.7" y="403.8" font-size="6.4" text-anchor="start" fill="#333" font-weight="normal" textLength="54.8" lengthAdjust="spacingAndGlyphs" stroke="#333" stroke-width="0.12">R = –0.61, <tspan font-style="italic">P</tspan> = .066</text>
<text x="353" y="389.5" font-size="10.8" text-anchor="start" fill="#111" font-weight="bold" stroke="#111" stroke-width="0.35">J</text>
<line x1="398.2" y1="448.9" x2="482.6" y2="470.8" stroke="#b0213d" stroke-width="1"/>
<circle cx="397.6" cy="428.1" r="1.85" fill="#9a0b27"/>
<circle cx="411.3" cy="415.1" r="1.85" fill="#9a0b27"/>
<circle cx="432.3" cy="412.3" r="1.85" fill="#9a0b27"/>
<circle cx="398.2" cy="473.1" r="1.85" fill="#9a0b27"/>
<circle cx="406.2" cy="472.6" r="1.85" fill="#9a0b27"/>
<circle cx="423.8" cy="475.7" r="1.85" fill="#9a0b27"/>
<circle cx="427.4" cy="470.8" r="1.85" fill="#9a0b27"/>
<circle cx="435.1" cy="476.5" r="1.85" fill="#9a0b27"/>
<circle cx="456.5" cy="474.3" r="1.85" fill="#9a0b27"/>
<circle cx="482.4" cy="467.3" r="1.85" fill="#9a0b27"/>
<g stroke="#222" fill="none">
<line x1="389.5" y1="395.65" x2="389.5" y2="481.5" stroke-width="1"/>
<line x1="389.0" y1="478.5" x2="512.7" y2="478.5" stroke-width="1.3"/>
<line x1="386.5" y1="478.5" x2="389.5" y2="478.5" stroke-width="0.9"/>
<line x1="386.5" y1="451.75" x2="389.5" y2="451.75" stroke-width="0.9"/>
<line x1="386.5" y1="425.0" x2="389.5" y2="425.0" stroke-width="0.9"/>
<line x1="386.5" y1="398.25" x2="389.5" y2="398.25" stroke-width="0.9"/>
<line x1="389.5" y1="478.5" x2="389.5" y2="481.5" stroke-width="0.9"/>
<line x1="419.5" y1="478.5" x2="419.5" y2="481.5" stroke-width="0.9"/>
<line x1="449.5" y1="478.5" x2="449.5" y2="481.5" stroke-width="0.9"/>
<line x1="479.5" y1="478.5" x2="479.5" y2="481.5" stroke-width="0.9"/>
<line x1="509.5" y1="478.5" x2="509.5" y2="481.5" stroke-width="0.9"/>
</g>
<text x="384.0" y="480.9" font-size="6.8" text-anchor="end" fill="#2e2e2e" font-weight="normal" stroke="#2e2e2e" stroke-width="0.12">0.0</text>
<text x="384.0" y="454.15" font-size="6.8" text-anchor="end" fill="#2e2e2e" font-weight="normal" stroke="#2e2e2e" stroke-width="0.12">0.5</text>
<text x="384.0" y="427.4" font-size="6.8" text-anchor="end" fill="#2e2e2e" font-weight="normal" stroke="#2e2e2e" stroke-width="0.12">1.0</text>
<text x="384.0" y="400.65" font-size="6.8" text-anchor="end" fill="#2e2e2e" font-weight="normal" stroke="#2e2e2e" stroke-width="0.12">1.5</text>
<text x="389.5" y="490.1" font-size="6.8" text-anchor="middle" fill="#2e2e2e" font-weight="normal" stroke="#2e2e2e" stroke-width="0.12">0</text>
<text x="419.5" y="490.1" font-size="6.8" text-anchor="middle" fill="#2e2e2e" font-weight="normal" stroke="#2e2e2e" stroke-width="0.12">5</text>
<text x="449.5" y="490.1" font-size="6.8" text-anchor="middle" fill="#2e2e2e" font-weight="normal" stroke="#2e2e2e" stroke-width="0.12">10</text>
<text x="479.5" y="490.1" font-size="6.8" text-anchor="middle" fill="#2e2e2e" font-weight="normal" stroke="#2e2e2e" stroke-width="0.12">15</text>
<text x="509.5" y="490.1" font-size="6.8" text-anchor="middle" fill="#2e2e2e" font-weight="normal" stroke="#2e2e2e" stroke-width="0.12">20</text>
<text x="452.0" y="502.0" font-size="8.6" text-anchor="middle" fill="#3b3b3b" font-weight="normal" textLength="90.5" lengthAdjust="spacingAndGlyphs" stroke="#3b3b3b" stroke-width="0.18">%CD8+ T cells (pre-treatment)</text>
<text transform="translate(369.9,437.38) rotate(-90)" x="0" y="0" font-size="8.2" text-anchor="middle" fill="#3b3b3b" textLength="88" lengthAdjust="spacingAndGlyphs" stroke="#3b3b3b" stroke-width="0.18">Fold change in %CD19+ cells</text>
<text x="455.6" y="403.8" font-size="6.4" text-anchor="start" fill="#333" font-weight="normal" textLength="52.3" lengthAdjust="spacingAndGlyphs" stroke="#333" stroke-width="0.12">R = –0.18, <tspan font-style="italic">P</tspan> = .63</text>
</svg>
<div class="frame"></div>
</body></html>
